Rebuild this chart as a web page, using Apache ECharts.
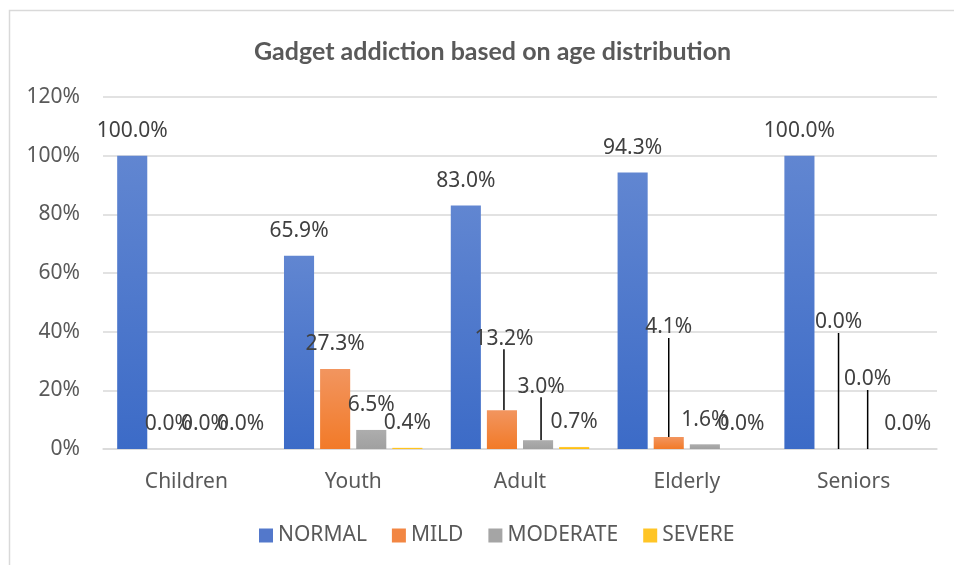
<!DOCTYPE html>
<html>
<head>
<meta charset="utf-8">
<script src="https://cdn.jsdelivr.net/npm/echarts@6/dist/echarts.min.js"></script>
<style>
html,body{margin:0;padding:0;background:#fff;}
#chart{width:954px;height:565px;}
</style>
</head>
<body>
<div id="chart"></div>
<script>
var categories = ['Children', 'Youth', 'Adult', 'Elderly', 'Seniors'];
var normal   = [100.0, 65.9, 83.0, 94.3, 100.0];
var mild     = [0.0, 27.3, 13.2, 4.1, 0.0];
var moderate = [0.0, 6.5, 3.0, 1.6, 0.0];
var severe   = [0.0, 0.4, 0.7, 0.0, 0.0];
var seriesNames = ['NORMAL', 'MILD', 'MODERATE', 'SEVERE'];
var yTicks = [0, 20, 40, 60, 80, 100, 120];

// label displacement (moved labels with leader lines), keyed "series-dataIndex"
var moved = {
  '1-2': [2, -47],
  '2-2': [3, -29],
  '1-3': [0, -85],
  '1-4': [3, -102],
  '2-4': [-4, -45]
};

function grad(top, bottom) {
  return new echarts.graphic.LinearGradient(0, 0, 0, 1, [
    { offset: 0, color: top },
    { offset: 1, color: bottom }
  ]);
}
var colors = [
  grad('#6186D1', '#3C6BC7'),
  grad('#F2955F', '#F27A28'),
  grad('#ADADAD', '#A0A0A0'),
  grad('#FFCB47', '#FFBE00')
];
var legendColors = ['#5378CB', '#F28643', '#A5A5A5', '#FFC526'];

var FONT = "'Noto Sans', 'Open Sans', sans-serif";

function makeData(vals, si) {
  return vals.map(function (v, i) {
    var item = { value: v };
    if (moved[si + '-' + i]) {
      item.labelLine = { show: true, lineStyle: { color: '#000', width: 1.5 } };
    }
    return item;
  });
}

var allSeries = [normal, mild, moderate, severe].map(function (vals, si) {
  return {
    name: seriesNames[si],
    type: 'bar',
    data: makeData(vals, si),
    barGap: '20%',
    barCategoryGap: '17%',
    itemStyle: { color: colors[si] },
    label: {
      show: true,
      position: 'top',
      distance: 14,
      fontFamily: FONT,
      fontSize: 21,
      color: '#404040',
      formatter: function (p) { return p.value.toFixed(1) + '%'; }
    },
    labelLine: { show: false },
    labelLayout: function (p) {
      var m = moved[p.seriesIndex + '-' + p.dataIndex];
      if (m) return { dx: m[0], dy: m[1] };
      return {};
    }
  };
});

var chart = echarts.init(document.getElementById('chart'), null, { renderer: 'canvas' });
chart.setOption({
  animation: false,
  backgroundColor: '#fff',
  color: legendColors,
  title: {
    text: 'Gadget addiction based on age distribution',
    left: 249,
    top: 34,
    textStyle: {
      fontFamily: "Lato, sans-serif",
      fontWeight: 'bold',
      fontSize: 25,
      color: '#595959'
    }
  },
  graphic: [{
    type: 'rect',
    shape: { x: 9.5, y: 10.5, width: 980, height: 600 },
    style: { fill: 'none', stroke: '#D9D9D9', lineWidth: 1.5 },
    silent: true
  }],
  legend: {
    bottom: 14,
    left: 254,
    itemWidth: 14,
    itemHeight: 14,
    itemGap: 25,
    icon: 'rect',
    textStyle: { fontFamily: FONT, fontSize: 21, color: '#595959' },
    data: seriesNames.map(function (n, i) { return { name: n, itemStyle: { color: legendColors[i] } }; })
  },
  grid: { left: 103, right: 17, top: 97, bottom: 116, containLabel: false },
  xAxis: {
    type: 'category',
    data: categories,
    axisTick: { show: false },
    axisLine: { lineStyle: { color: '#D9D9D9', width: 1.5 } },
    axisLabel: { fontFamily: FONT, fontSize: 21, color: '#595959', margin: 23 }
  },
  yAxis: {
    type: 'value',
    min: yTicks[0],
    max: yTicks[yTicks.length - 1],
    interval: yTicks[1] - yTicks[0],
    axisLine: { show: false },
    axisTick: { show: false },
    splitLine: { lineStyle: { color: '#D9D9D9', width: 1.5 } },
    axisLabel: { fontFamily: FONT, fontSize: 21, color: '#595959', margin: 23, formatter: '{value}%' }
  },
  series: allSeries
});
</script>
</body>
</html>
